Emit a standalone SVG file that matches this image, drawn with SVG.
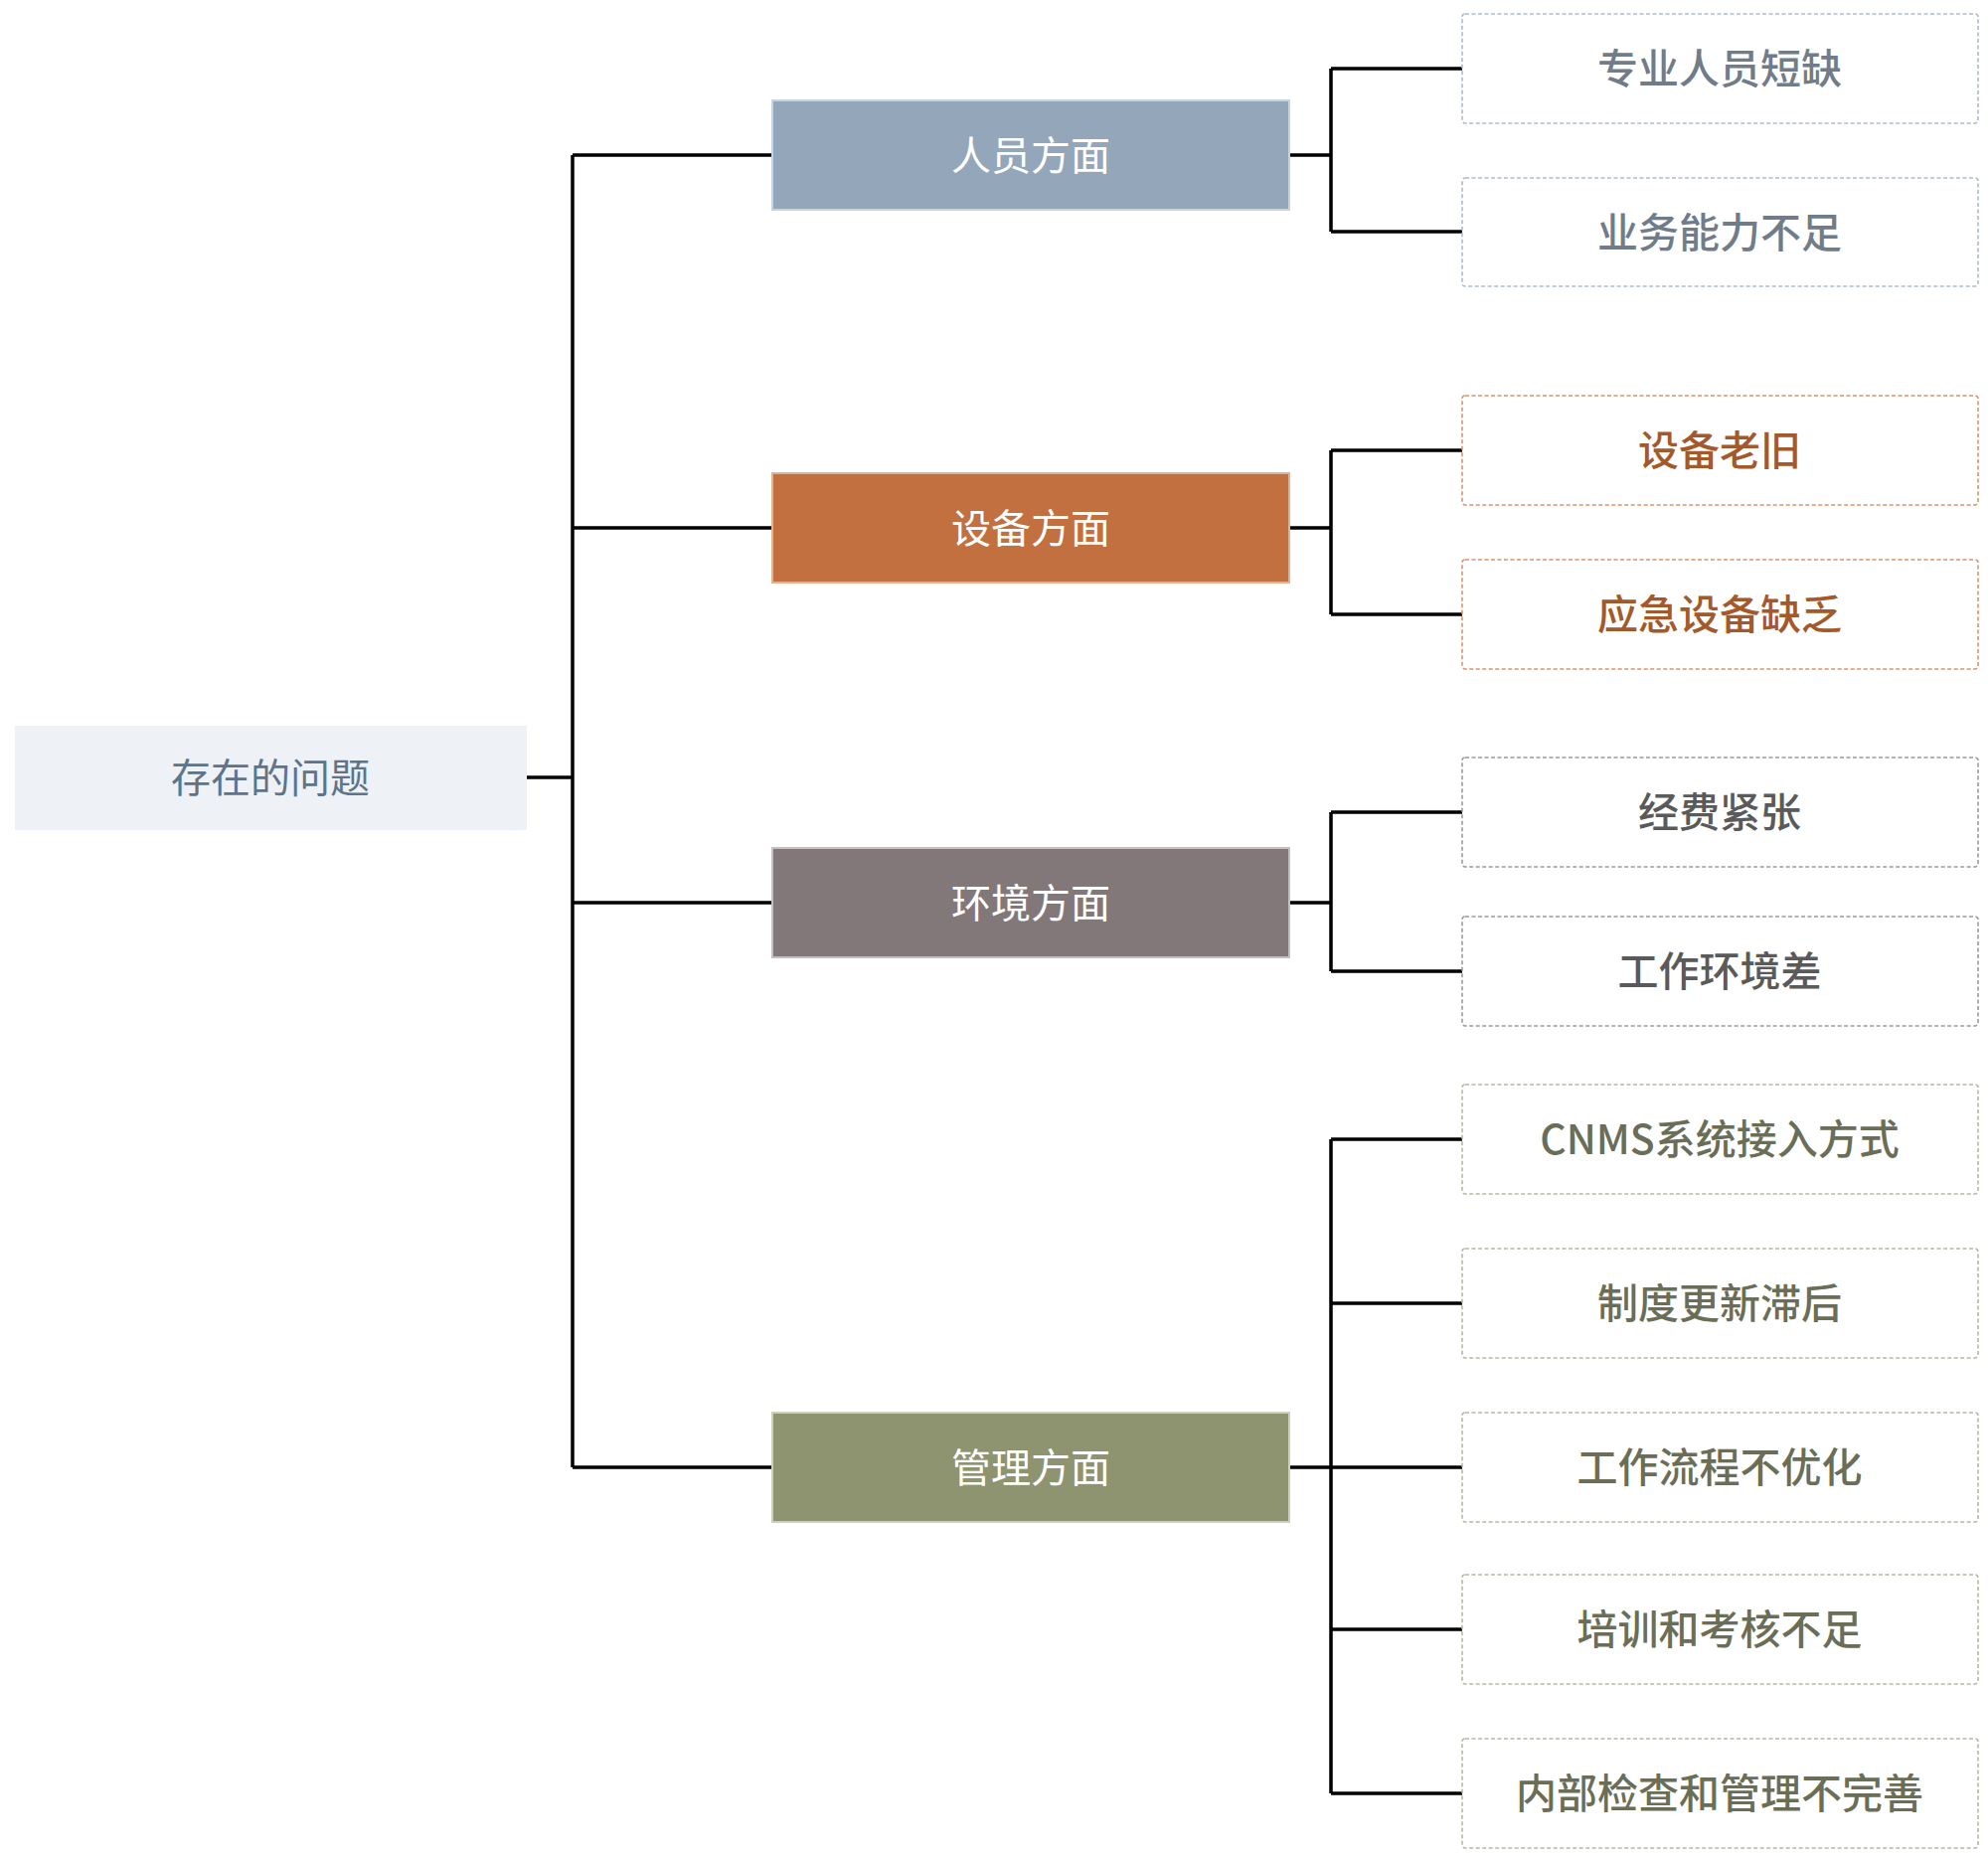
<svg xmlns="http://www.w3.org/2000/svg" width="2000" height="1868" viewBox="0 0 2000 1868">
<style>
text{font-family:"Noto Sans CJK SC","Liberation Sans",sans-serif;text-anchor:middle;dominant-baseline:central}
.conn{fill:none;stroke:#000;stroke-width:3.5}
.cat text{fill:#fff;font-size:40px;font-weight:400}
.leaf rect{fill:#fff;stroke-width:1.6;stroke-dasharray:4 2.5}
.leaf text{font-size:41px;font-weight:500}
.p rect{stroke:#aebacb}.p text{fill:#717c8b}
.e rect{stroke:#dc946a}.e text{fill:#a4592b}
.v rect{stroke:#9b9b9b}.v text{fill:#5a5a5a}
.m rect{stroke:#b7b9a2}.m text{fill:#6b6e57}
</style>
<rect width="2000" height="1868" fill="#fff"/>
<g id="connectors" class="conn">
<path d="M529 782H576M576 156V1476M576 156H777M576 531H777M576 908H777M576 1476H777"/>
<path d="M1297 156H1339M1339 69V233M1339 69H1471M1339 233H1471"/>
<path d="M1297 531H1339M1339 453V618M1339 453H1471M1339 618H1471"/>
<path d="M1297 908H1339M1339 817V977M1339 817H1471M1339 977H1471"/>
<path d="M1297 1476H1339M1339 1146V1804M1339 1146H1471M1339 1311H1471M1339 1476H1471M1339 1639H1471M1339 1804H1471"/>
</g>
<g id="root">
<rect x="15" y="730" width="515" height="105" fill="#eef1f5"/>
<text x="272" y="780" fill="#5e7489" font-size="40">存在的问题</text>
</g>
<g id="cat-people" class="cat">
<rect x="777" y="101" width="520" height="110" fill="#94a7ba" stroke="#c9d3dd" stroke-width="2"/>
<text x="1037" y="154">人员方面</text>
</g>
<g id="cat-equip" class="cat">
<rect x="777" y="476" width="520" height="110" fill="#c27040" stroke="#e0b394" stroke-width="2"/>
<text x="1037" y="529">设备方面</text>
</g>
<g id="cat-env" class="cat">
<rect x="777" y="853" width="520" height="110" fill="#82787a" stroke="#c4bfc0" stroke-width="2"/>
<text x="1037" y="906">环境方面</text>
</g>
<g id="cat-mgmt" class="cat">
<rect x="777" y="1421" width="520" height="110" fill="#8e9470" stroke="#cdd0bd" stroke-width="2"/>
<text x="1037" y="1474">管理方面</text>
</g>
<g id="leaf-p1" class="leaf p"><rect x="1471" y="14" width="519" height="110" rx="3"/><text x="1730" y="66">专业人员短缺</text></g>
<g id="leaf-p2" class="leaf p"><rect x="1471" y="179" width="519" height="109" rx="3"/><text x="1730" y="231">业务能力不足</text></g>
<g id="leaf-e1" class="leaf e"><rect x="1471" y="398" width="519" height="110" rx="3"/><text x="1730" y="450">设备老旧</text></g>
<g id="leaf-e2" class="leaf e"><rect x="1471" y="563" width="519" height="110" rx="3"/><text x="1730" y="615">应急设备缺乏</text></g>
<g id="leaf-v1" class="leaf v"><rect x="1471" y="762" width="519" height="110" rx="3"/><text x="1730" y="814">经费紧张</text></g>
<g id="leaf-v2" class="leaf v"><rect x="1471" y="922" width="519" height="110" rx="3"/><text x="1730" y="974">工作环境差</text></g>
<g id="leaf-m1" class="leaf m"><rect x="1471" y="1091" width="519" height="110" rx="3"/><text x="1730" y="1143">CNMS系统接入方式</text></g>
<g id="leaf-m2" class="leaf m"><rect x="1471" y="1256" width="519" height="110" rx="3"/><text x="1730" y="1308">制度更新滞后</text></g>
<g id="leaf-m3" class="leaf m"><rect x="1471" y="1421" width="519" height="110" rx="3"/><text x="1730" y="1473">工作流程不优化</text></g>
<g id="leaf-m4" class="leaf m"><rect x="1471" y="1584" width="519" height="110" rx="3"/><text x="1730" y="1636">培训和考核不足</text></g>
<g id="leaf-m5" class="leaf m"><rect x="1471" y="1749" width="519" height="110" rx="3"/><text x="1730" y="1801">内部检查和管理不完善</text></g>
</svg>
